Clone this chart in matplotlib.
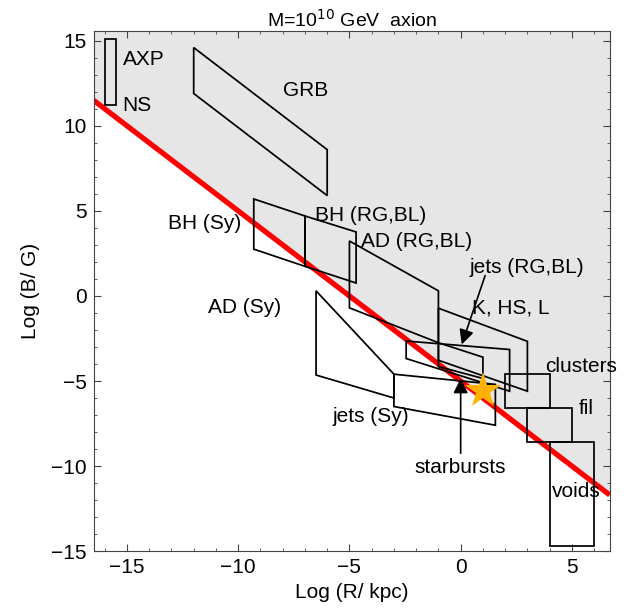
import matplotlib.pyplot as plt
import numpy as np
from matplotlib.ticker import MultipleLocator

plt.rcParams['font.family'] = ['Liberation Sans', 'DejaVu Sans']

# axion line: log B = -log R - 5
line_x = [-16.5, 6.7]
line_slope = -1.0
line_icpt = -5.0

# boxes (log R, log B) corners
box_names = ["AXP", "GRB", "BH (Sy)", "BH (RG,BL)", "AD (RG,BL)", "starbursts box",
             "K, HS, L", "jets (RG,BL)", "AD (Sy)", "jets (Sy)", "clusters", "fil", "voids"]
box_r = [
    [-16, -15.5, -15.5, -16],
    [-12, -6, -6, -12],
    [-9.3, -7, -7, -9.3],
    [-7, -4.7, -4.7, -7],
    [-5, -1, -1, -5],
    [-1, 1, 1, -1],
    [-1, 3, 3, -1],
    [-2.45, 2.2, 2.2, -2.45],
    [-6.5, -3, -3, -6.5],
    [-3, 1.56, 1.56, -3],
    [2, 4, 4, 2],
    [3, 5, 5, 3],
    [4, 6, 6, 4],
]
box_b = [
    [15.1, 15.1, 11.2, 11.2],
    [14.6, 8.6, 5.9, 11.9],
    [5.7, 4.7, 1.74, 2.75],
    [4.7, 3.76, 0.76, 1.74],
    [3.23, 0.3, -2.75, -0.7],
    [-2.75, -3.6, -4.85, -4.15],
    [-0.72, -2.67, -5.6, -3.78],
    [-2.65, -3.15, -5.6, -3.68],
    [0.3, -4.6, -6.0, -4.65],
    [-4.6, -5.2, -7.6, -6.5],
    [-4.6, -4.6, -6.6, -6.6],
    [-6.6, -6.6, -8.6, -8.6],
    [-8.6, -8.6, -14.7, -14.7],
]

# labels
lab_text = ["AXP", "NS", "GRB", "BH (Sy)", "BH (RG,BL)", "AD (RG,BL)", "jets (RG,BL)",
            "K, HS, L", "AD (Sy)", "clusters", "fil", "jets (Sy)", "starbursts", "voids"]
lab_x = [-15.2, -15.2, -6.95, -11.5, -4.04, -1.97, 2.96, 2.24, -9.73, 5.43, 5.65, -4.04, 0.0, 5.2]
lab_y = [13.9, 11.2, 12.1, 4.27, 4.74, 3.2, 1.7, -0.7, -0.7, -4.15, -6.6, -7.08, -10.1, -11.5]
lab_ha = ["left", "left", "center", "center", "center", "center", "center",
          "center", "center", "center", "center", "center", "center", "center"]

# arrows (from, to)
arrow_from = [(1.1, 1.2), (0.0, -9.25)]
arrow_to = [(0.05, -2.85), (0.0, -4.85)]

star_r, star_b = 1.0, -5.6

fig = plt.figure(figsize=(6.26, 6.11), dpi=100)
ax = fig.add_axes([0.1495, 0.098, 0.8245, 0.852])

xl = np.array(line_x)
yl = line_slope * xl + line_icpt
ax.fill_between(xl, yl, 20, color='#e6e6e6', lw=0, zorder=0)
ax.plot(xl, yl, color='red', lw=3.8, zorder=2, solid_capstyle='butt')

for r, b in zip(box_r, box_b):
    ax.fill(r, b, fill=False, edgecolor='black', lw=1.25, zorder=3)

for t, x, y, ha in zip(lab_text, lab_x, lab_y, lab_ha):
    ax.text(x, y, t, ha=ha, va='center', fontsize=15, zorder=5)

for a, b in zip(arrow_from, arrow_to):
    ax.annotate('', xy=b, xytext=a,
                arrowprops=dict(arrowstyle='-|>', color='black', lw=1.2,
                                mutation_scale=22, shrinkA=0, shrinkB=0),
                zorder=6)

ax.plot(star_r, star_b, marker='*', color='#ffb300', markersize=27,
        markeredgewidth=0, zorder=7)

ax.set_xlim(-16.5, 6.7)
ax.set_ylim(-15, 15.6)
ax.set_xticks([-15, -10, -5, 0, 5])
ax.set_yticks([-15, -10, -5, 0, 5, 10, 15])
ax.xaxis.set_minor_locator(MultipleLocator(1))
ax.yaxis.set_minor_locator(MultipleLocator(1))
ax.tick_params(which='both', direction='in', top=True, right=True, labelsize=15,
               color='#444444')
ax.tick_params(which='major', length=5, pad=5)
ax.tick_params(which='minor', length=2.5)
for s in ax.spines.values():
    s.set_color('#444444')

ax.set_xlabel('Log (R/ kpc)', fontsize=15, labelpad=4)
ax.set_ylabel('Log (B/ G)', fontsize=15, labelpad=8)
ax.set_title('M=10$^{10}$ GeV  axion', fontsize=14, pad=3)

fig.savefig('out.png', dpi=100)
